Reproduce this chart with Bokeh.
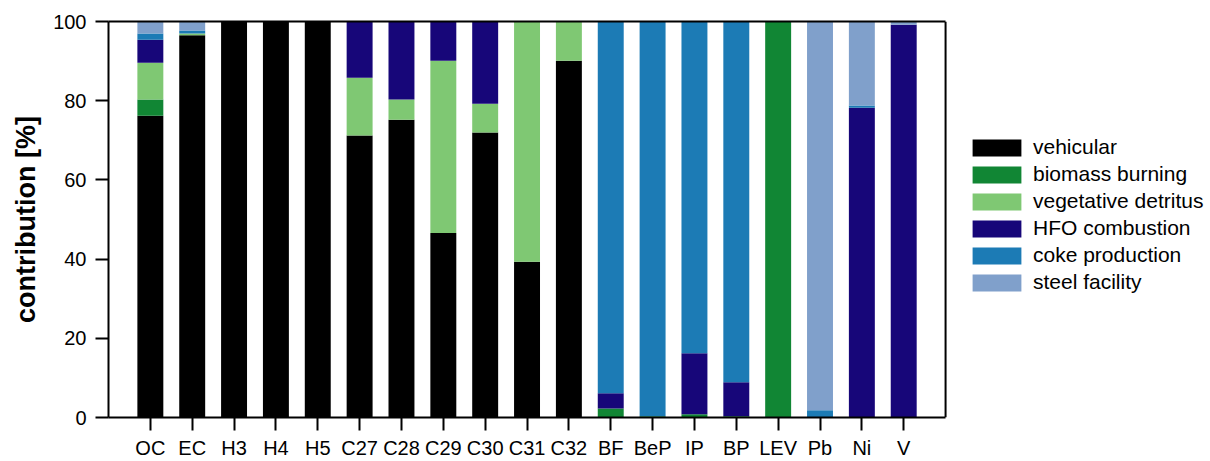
from bokeh.plotting import figure
from bokeh.models import Range1d, FixedTicker, ColumnDataSource, Legend, LinearAxis, Span
from bokeh.embed import file_html
from bokeh.resources import INLINE

categories = ["OC", "EC", "H3", "H4", "H5", "C27", "C28", "C29", "C30", "C31", "C32",
              "BF", "BeP", "IP", "BP", "LEV", "Pb", "Ni", "V"]
vehicular = [76.2, 96.5, 100, 100, 100, 71.2, 75.2, 46.6, 72.0, 39.3, 90.1, 0, 0, 0, 0, 0, 0, 0, 0]
biomass_burning = [4.1, 0, 0, 0, 0, 0, 0, 0, 0, 0, 0, 2.3, 0.3, 0.8, 0.3, 100, 0, 0, 0]
vegetative_detritus = [9.3, 0.5, 0, 0, 0, 14.6, 5.1, 43.5, 7.2, 60.7, 9.9, 0, 0, 0, 0, 0, 0, 0, 0]
hfo_combustion = [5.8, 0, 0, 0, 0, 14.2, 19.7, 9.9, 20.8, 0, 0, 3.8, 0, 15.4, 8.6, 0, 0, 78.2, 99.2]
coke_production = [1.6, 0.7, 0, 0, 0, 0, 0, 0, 0, 0, 0, 93.9, 99.7, 83.8, 91.1, 0, 1.8, 0.6, 0]
steel_facility = [3.0, 2.3, 0, 0, 0, 0, 0, 0, 0, 0, 0, 0, 0, 0, 0, 0, 98.2, 21.2, 0.8]
y_ticks = [0, 20, 40, 60, 80, 100]

series_names = ["vehicular", "biomass burning", "vegetative detritus",
                "HFO combustion", "coke production", "steel facility"]
series_values = [vehicular, biomass_burning, vegetative_detritus,
                 hfo_combustion, coke_production, steel_facility]
colors = ["#000000", "#118634", "#7fc873", "#170679", "#1c7bb5", "#80a0cb"]

FONT = "Liberation Sans"

n = len(categories)
x_pos = list(range(n))
x_lo, x_hi = -1, n          # plotted box spans half a slot beyond the outer bars
legend_room = 6.33          # extra x-range on the right that hosts the legend

data = {"x": x_pos}
keys = []
for i, vals in enumerate(series_values):
    k = "s%d" % i
    keys.append(k)
    data[k] = vals
source = ColumnDataSource(data)

p = figure(width=1210, height=461, output_backend="svg", toolbar_location=None,
           x_range=Range1d(x_lo, x_hi + legend_room), y_range=Range1d(0, 100),
           min_border_left=108, min_border_top=21, min_border_bottom=44,
           min_border_right=0)

renderers = p.vbar_stack(keys, x="x", width=0.62, source=source, color=colors,
                         line_color=None)

p.xgrid.visible = False
p.ygrid.visible = False
p.outline_line_color = None

p.xaxis.ticker = FixedTicker(ticks=x_pos)
p.xaxis.major_label_overrides = {i: c for i, c in enumerate(categories)}
p.xaxis.bounds = (x_lo, x_hi)
p.yaxis.ticker = FixedTicker(ticks=y_ticks)

for ax in (p.xaxis[0], p.yaxis[0]):
    ax.axis_line_width = 2
    ax.major_tick_line_width = 2
    ax.major_tick_out = 13
    ax.major_tick_in = 0
    ax.minor_tick_out = 0
    ax.minor_tick_in = 0
    ax.major_label_text_font = FONT
    ax.major_label_text_font_size = "20px"
    ax.major_label_text_color = "black"
p.xaxis.major_label_standoff = 6
p.yaxis.major_label_standoff = 9

# top edge of the box
top = LinearAxis(ticker=FixedTicker(ticks=[]), bounds=(x_lo, x_hi),
                 axis_line_width=2, major_tick_out=0, major_tick_in=0,
                 minor_tick_out=0, minor_tick_in=0, major_label_text_font_size="0px")
p.add_layout(top, "above")
# right edge of the box
p.add_layout(Span(location=x_hi, dimension="height", line_color="black", line_width=2))

p.yaxis.axis_label = "contribution [%]"
p.yaxis.axis_label_text_font = FONT
p.yaxis.axis_label_text_font_style = "bold"
p.yaxis.axis_label_text_font_size = "27px"
p.yaxis.axis_label_text_color = "black"
p.yaxis.axis_label_standoff = 9

legend = Legend(items=[(nm, [r]) for nm, r in zip(series_names, renderers)],
                location=(858, 123), orientation="vertical")
legend.label_text_font = FONT
legend.label_text_font_size = "21px"
legend.label_text_color = "black"
legend.glyph_width = 61
legend.glyph_height = 21
legend.label_height = 22
legend.spacing = 3
legend.label_standoff = 6
legend.margin = 0
legend.padding = 0
legend.border_line_color = None
legend.background_fill_alpha = 0
p.add_layout(legend, "center")

open("out.html", "w").write(file_html(p, INLINE))
